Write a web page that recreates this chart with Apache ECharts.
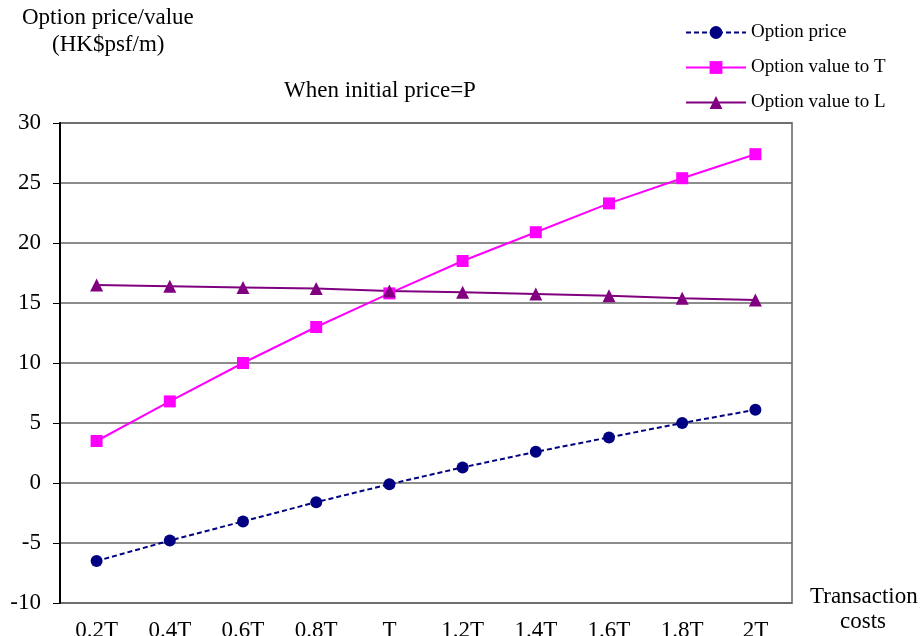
<!DOCTYPE html>
<html>
<head>
<meta charset="utf-8">
<script src="https://cdn.jsdelivr.net/npm/echarts@6/dist/echarts.min.js"></script>
<style>
  html, body { margin: 0; padding: 0; background: #fff; }
  #main { width: 921px; height: 636px; }
</style>
</head>
<body>
<div id="main"></div>
<script>
// categories on the x axis
var costs = ["0.2T", "0.4T", "0.6T", "0.8T", "T", "1.2T", "1.4T", "1.6T", "1.8T", "2T"];
// series values
var optionPrice = [-6.5, -4.8, -3.2, -1.6, -0.1, 1.3, 2.6, 3.8, 5.0, 6.1];
var valueToT = [3.5, 6.8, 10.0, 13.0, 15.8, 18.5, 20.9, 23.3, 25.4, 27.4];
var valueToL = [16.5, 16.4, 16.3, 16.2, 16.0, 15.9, 15.75, 15.6, 15.4, 15.25];

var serif = "Liberation Serif";
var chart = echarts.init(document.getElementById("main"));

chart.setOption({
  animation: false,
  textStyle: { fontFamily: serif },
  grid: { left: 60, top: 123, width: 732, height: 480, show: true, borderColor: "#888", borderWidth: 2, outerBoundsMode: "none" },
  title: {
    text: "When initial price=P",
    left: 375, top: 74, textAlign: "center",
    textStyle: { fontFamily: serif, fontSize: 23, fontWeight: "normal", color: "#000" }
  },
  legend: {
    orient: "vertical",
    left: 680, top: 18,
    itemWidth: 60, itemHeight: 16, itemGap: 16,
    textStyle: { fontFamily: serif, fontSize: 19, color: "#000" },
    data: ["Option price", "Option value to T", "Option value to L"]
  },
  graphic: [
    { type: "text", left: 22, top: 6, style: { text: "Option price/value", font: "23px " + serif, fill: "#000" } },
    { type: "text", left: 52, top: 33, style: { text: "(HK$psf/m)", font: "23px " + serif, fill: "#000" } },
    { type: "text", left: 810, top: 585, style: { text: "Transaction", font: "23px " + serif, fill: "#000" } },
    { type: "text", left: 840, top: 610, style: { text: "costs", font: "23px " + serif, fill: "#000" } }
  ],
  xAxis: {
    type: "category",
    data: costs,
    boundaryGap: true,
    axisLine: { show: false },
    axisTick: { show: false },
    axisLabel: { fontFamily: serif, fontSize: 23, color: "#000", margin: 16 }
  },
  yAxis: {
    type: "value",
    min: -10, max: 30, interval: 5,
    axisLine: { show: true, lineStyle: { color: "#000", width: 2 } },
    axisTick: { show: true, length: 7, lineStyle: { color: "#000" } },
    axisLabel: { fontFamily: serif, fontSize: 23, color: "#000", margin: 19 },
    splitLine: { show: true, lineStyle: { color: "#666", width: 1.5 } }
  },
  series: [
    {
      name: "Option price", type: "line", data: optionPrice,
      symbol: "circle", symbolSize: 12,
      itemStyle: { color: "#000080" },
      lineStyle: { color: "#000080", width: 2, type: [5, 3] }
    },
    {
      name: "Option value to T", type: "line", data: valueToT,
      symbol: "rect", symbolSize: 12,
      itemStyle: { color: "#ff00ff" },
      lineStyle: { color: "#ff00ff", width: 2 }
    },
    {
      name: "Option value to L", type: "line", data: valueToL,
      symbol: "triangle", symbolSize: 13,
      itemStyle: { color: "#800080" },
      lineStyle: { color: "#800080", width: 2 }
    }
  ]
});
</script>
</body>
</html>
